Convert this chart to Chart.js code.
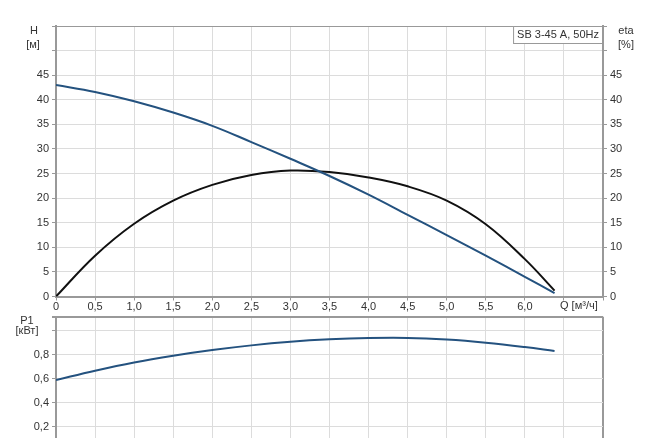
<!DOCTYPE html>
<html>
<head>
<meta charset="utf-8">
<script src="https://cdn.jsdelivr.net/npm/chart.js@4.4.1/dist/chart.umd.min.js"></script>
<style>
  html, body { margin: 0; padding: 0; background: #fff; overflow: hidden; width: 650px; height: 438px; }
  #top { position: absolute; left: 0; top: 0; }
  #bottom { position: absolute; left: 0; top: 300px; }
</style>
</head>
<body>
<canvas id="top" width="650" height="320"></canvas>
<canvas id="bottom" width="650" height="180"></canvas>
<script>
// flow Q [m3/h]
const Q   = [0, 0.5, 1.0, 1.5, 2.0, 2.5, 3.0, 3.5, 4.0, 4.5, 5.0, 5.5, 6.0, 6.38];
// head H [m]
const H   = [43.0, 41.6, 39.7, 37.4, 34.7, 31.4, 28.0, 24.5, 20.7, 16.6, 12.5, 8.3, 4.0, 0.7];
// efficiency eta [%]
const ETA = [0, 8.3, 14.8, 19.5, 22.7, 24.7, 25.6, 25.3, 24.2, 22.4, 19.5, 14.7, 7.6, 1.2];
// power P1 [kW]
const P1  = [0.589, 0.667, 0.736, 0.792, 0.839, 0.878, 0.908, 0.928, 0.939, 0.940, 0.926, 0.900, 0.864, 0.831];

const X_TICKS  = [0, 0.5, 1.0, 1.5, 2.0, 2.5, 3.0, 3.5, 4.0, 4.5, 5.0, 5.5, 6.0, 6.5, 7.0];
const X_LABELS = ['0', '0,5', '1,0', '1,5', '2,0', '2,5', '3,0', '3,5', '4,0', '4,5', '5,0', '5,5', '6,0', '', ''];
const H_TICKS  = [0, 5, 10, 15, 20, 25, 30, 35, 40, 45, 50, 55];
const H_LABELS = ['0', '5', '10', '15', '20', '25', '30', '35', '40', '45', '', ''];
const P1_TICKS  = [0, 0.2, 0.4, 0.6, 0.8, 1.0, 1.117];
const P1_LABELS = ['0', '0,2', '0,4', '0,6', '0,8', '', ''];

const FONT = { family: '"Liberation Sans", Arial, sans-serif', size: 11 };
const GRID = '#dcdcdc';
const AXIS = '#999';
const TEXT = '#333';
const BLUE = '#24527f';

function pts(ys) {
    return Q.map((q, i) => ({ x: q, y: ys[i] }));
}

function setTicks(values) {
    return function(scale) {
        scale.ticks = values.map(v => ({ value: v }));
    };
}

function edgeColor(last) {
    return ctx => (ctx.tick && ctx.tick.value === last) ? AXIS : GRID;
}

const textPlugin = {
    id: 'texts',
    afterDraw(chart, args, opts) {
        const c = chart.ctx;
        c.save();
        c.font = '11px "Liberation Sans", Arial, sans-serif';
        c.fillStyle = TEXT;
        c.textBaseline = 'middle';
        (opts.labels || []).forEach(l => {
            c.textAlign = l.align || 'center';
            c.fillText(l.text, l.x, l.y);
        });
        if (opts.box) {
            const a = chart.chartArea;
            const w = c.measureText(opts.box).width + 8;
            c.fillStyle = '#fff';
            c.fillRect(a.right - w, a.top, w, 17);
            c.strokeStyle = AXIS;
            c.lineWidth = 1;
            c.strokeRect(a.right - w + 0.5, a.top + 0.5, w - 1, 17);
            c.fillStyle = TEXT;
            c.textAlign = 'center';
            c.fillText(opts.box, a.right - w / 2, a.top + 9);
        }
        c.restore();
    }
};

new Chart(document.getElementById('top'), {
    type: 'line',
    data: {
        datasets: [
            { data: pts(H), borderColor: BLUE, borderWidth: 2, pointRadius: 0, tension: 0.4, yAxisID: 'y' },
            { data: pts(ETA), borderColor: '#111', borderWidth: 2, pointRadius: 0, tension: 0.4, yAxisID: 'y2' }
        ]
    },
    options: {
        responsive: false,
        animation: false,
        layout: { padding: { top: 26, left: 0, right: 0, bottom: 0 } },
        plugins: {
            legend: { display: false },
            tooltip: { enabled: false },
            texts: {
                box: 'SB 3-45 A, 50Hz',
                labels: [
                    { text: 'H', x: 34, y: 31 },
                    { text: '[м]', x: 33, y: 45 },
                    { text: 'eta', x: 626, y: 31 },
                    { text: '[%]', x: 626, y: 45 },
                    { text: 'Q [м³/ч]', x: 560, y: 306, align: 'left' }
                ]
            }
        },
        scales: {
            x: {
                type: 'linear', min: 0, max: 7,
                afterBuildTicks: setTicks(X_TICKS),
                afterFit: s => { s.height = 23.5; },
                ticks: { font: FONT, color: TEXT, padding: 0, maxRotation: 0, autoSkip: false,
                         callback: (v, i) => X_LABELS[i] },
                grid: { color: edgeColor(7), tickColor: AXIS, tickLength: 4 },
                border: { color: AXIS, width: 2 }
            },
            y: {
                type: 'linear', position: 'left', min: 0, max: 55,
                afterBuildTicks: setTicks(H_TICKS),
                afterFit: s => { s.width = 56; },
                ticks: { font: FONT, color: TEXT, padding: 3, autoSkip: false,
                         callback: (v, i) => H_LABELS[i] },
                grid: { color: edgeColor(55), tickColor: AXIS, tickLength: 4 },
                border: { color: AXIS, width: 2 }
            },
            y2: {
                type: 'linear', position: 'right', min: 0, max: 55,
                afterBuildTicks: setTicks(H_TICKS),
                afterFit: s => { s.width = 47; },
                ticks: { font: FONT, color: TEXT, padding: 3, autoSkip: false,
                         callback: (v, i) => H_LABELS[i] },
                grid: { drawOnChartArea: false, tickColor: AXIS, tickLength: 4 },
                border: { color: AXIS, width: 2 }
            }
        }
    },
    plugins: [textPlugin]
});

new Chart(document.getElementById('bottom'), {
    type: 'line',
    data: {
        datasets: [
            { data: pts(P1), borderColor: BLUE, borderWidth: 2, pointRadius: 0, tension: 0.4 }
        ]
    },
    options: {
        responsive: false,
        animation: false,
        layout: { padding: { top: 16.7, left: 0, right: 47, bottom: 0 } },
        plugins: {
            legend: { display: false },
            tooltip: { enabled: false },
            texts: {
                labels: [
                    { text: 'P1', x: 27, y: 21 },
                    { text: '[кВт]', x: 27, y: 31 }
                ]
            }
        },
        scales: {
            x: {
                type: 'linear', min: 0, max: 7,
                afterBuildTicks: setTicks(X_TICKS),
                afterFit: s => { s.height = 29.3; },
                ticks: { font: FONT, color: TEXT, maxRotation: 0, autoSkip: false,
                         callback: (v, i) => X_LABELS[i] },
                grid: { color: ctx => (ctx.tick && (ctx.tick.value === 7 || ctx.tick.value === 0)) ? AXIS : GRID,
                        lineWidth: ctx => (ctx.tick && ctx.tick.value === 7) ? 2 : 1,
                        tickColor: AXIS, tickLength: 4 },
                border: { color: AXIS, width: 2 }
            },
            y: {
                type: 'linear', position: 'left', min: 0, max: 1.117,
                afterBuildTicks: setTicks(P1_TICKS),
                afterFit: s => { s.width = 56; },
                ticks: { font: FONT, color: TEXT, padding: 3, autoSkip: false,
                         callback: (v, i) => P1_LABELS[i] },
                grid: { color: edgeColor(1.117), lineWidth: ctx => (ctx.tick && ctx.tick.value === 1.117) ? 2 : 1,
                        tickColor: AXIS, tickLength: 4 },
                border: { color: AXIS, width: 2 }
            }
        }
    },
    plugins: [textPlugin]
});
</script>
</body>
</html>
